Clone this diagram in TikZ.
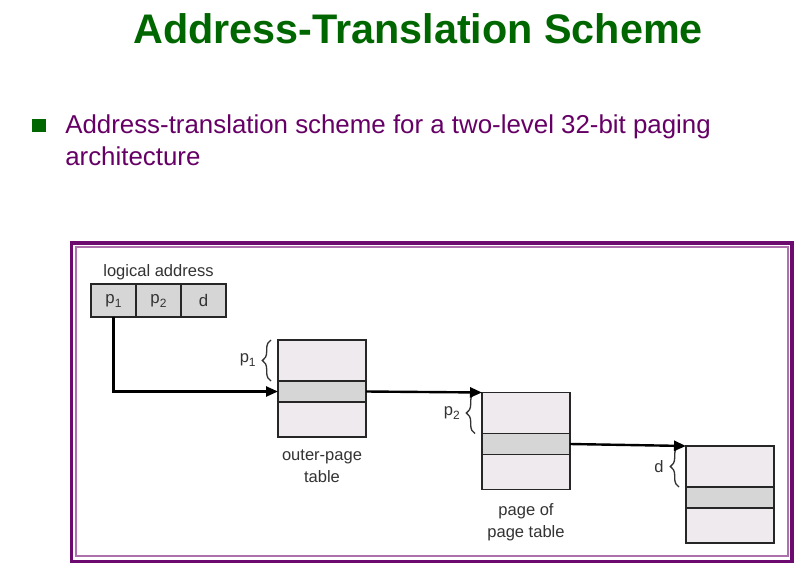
\documentclass[tikz,border=0pt]{standalone}
\usepackage{fontspec}
\setmainfont{Liberation Sans}
\usetikzlibrary{positioning,arrows.meta,decorations.pathreplacing}
\definecolor{titlegreen}{RGB}{0,102,0}
\definecolor{bullpurple}{RGB}{102,0,102}
\definecolor{framepurple}{RGB}{108,10,112}
\definecolor{framelight}{RGB}{172,112,172}
\definecolor{slotfill}{RGB}{238,234,238}
\definecolor{hitfill}{RGB}{214,214,214}
\definecolor{labelgray}{RGB}{51,51,51}
\newcommand{\idx}[1]{\raisebox{-0.45ex}{\fontsize{9}{9}\selectfont #1}}

\begin{document}
\begin{tikzpicture}[x=0.75pt,y=-0.75pt,
  entry/.style={draw=black!85,line width=1.1pt,fill=slotfill,minimum width=66pt,inner sep=0pt,outer sep=0pt},
  hit/.style={entry,fill=hitfill,minimum height=15.75pt},
  cell/.style={draw=black!85,line width=1.1pt,fill=hitfill,minimum width=33.75pt,minimum height=24.75pt,
    inner sep=0pt,outer sep=0pt,font=\fontsize{12.6}{14}\selectfont,text=labelgray},
  ptr/.style={line width=1.8pt,-{Triangle[length=9pt,width=7.5pt]}},
  brc/.style={decorate,decoration={brace,amplitude=6.5pt},line width=1pt,draw=black!80},
  lbl/.style={font=\fontsize{12.4}{16.5}\selectfont,text=labelgray,inner sep=0pt,align=center}]
 \useasboundingbox[fill=white] (0,0) rectangle (812,577);
% heading
 \node[font=\fontsize{31}{36}\selectfont\bfseries, text=titlegreen, anchor=base, inner sep=0pt] (title) at (418,44) {Address-Translation Scheme};
 \node[fill=titlegreen, minimum size=10pt, inner sep=0pt] (sq) at (39,125.5) {};
 \node[font=\fontsize{19.4}{24}\selectfont, text=bullpurple, anchor=base west, inner sep=0pt] (bul1) at (65,134) {Address-translation scheme for a two-level 32-bit paging};
 \node[font=\fontsize{19.4}{24}\selectfont, text=bullpurple, anchor=base west, inner sep=0pt] (bul2) at (65,166) {architecture};
% frame
 \draw[framepurple, line width=2.6pt] (71.5,243) rectangle (792,561.5);
 \draw[framelight, line width=1.5pt] (75.5,247) rectangle (787.5,556);
% logical address
 \node[cell] (p1) at (113.5,300.5) {p\idx{1}};
 \node[cell, right=0pt of p1] (p2) {p\idx{2}};
 \node[cell, right=0pt of p2] (d) {d};
 \node[lbl, above=2.5pt of p2] (la) {logical address};
% outer-page table
 \node[entry, minimum height=30.75pt, anchor=north west] (o1) at (278,340) {};
 \node[hit, below=0pt of o1] (o2) {};
 \node[entry, minimum height=26.25pt, below=0pt of o2] (o3) {};
 \node[lbl, below=9.75pt of o3] (olbl) {outer-page\\table};
% page of page table
 \node[entry, minimum height=30.75pt, anchor=north west] (q1) at (482,392.5) {};
 \node[hit, below=0pt of q1] (q2) {};
 \node[entry, minimum height=26.25pt, below=0pt of q2] (q3) {};
 \node[lbl, below=10pt of q3] (qlbl) {page of\\page table};
% frame in memory
 \node[entry, minimum height=30.75pt, anchor=north west] (f1) at (686,446) {};
 \node[hit, below=0pt of f1] (f2) {};
 \node[entry, minimum height=26.25pt, below=0pt of f2] (f3) {};
% braces
 \draw[brc] ([xshift=-5.25pt]o1.south west) -- ([xshift=-5.25pt]o1.north west)
   node[lbl, midway, left=11pt] (bp1) {p\idx{1}};
 \draw[brc] ([xshift=-5.25pt]q1.south west) -- ([xshift=-5.25pt]q1.north west)
   node[lbl, midway, left=11pt] (bp2) {p\idx{2}};
 \draw[brc] ([xshift=-5.25pt]f1.south west) -- ([xshift=-5.25pt]f1.north west)
   node[lbl, midway, left=11pt] (bd) {d};
% edges
 \draw[ptr] (p1.south) |- (o2.west);
 \draw[ptr] (o2.east) -- (q1.north west);
 \draw[ptr] (q2.east) -- (f1.north west);
\end{tikzpicture}
\end{document}
